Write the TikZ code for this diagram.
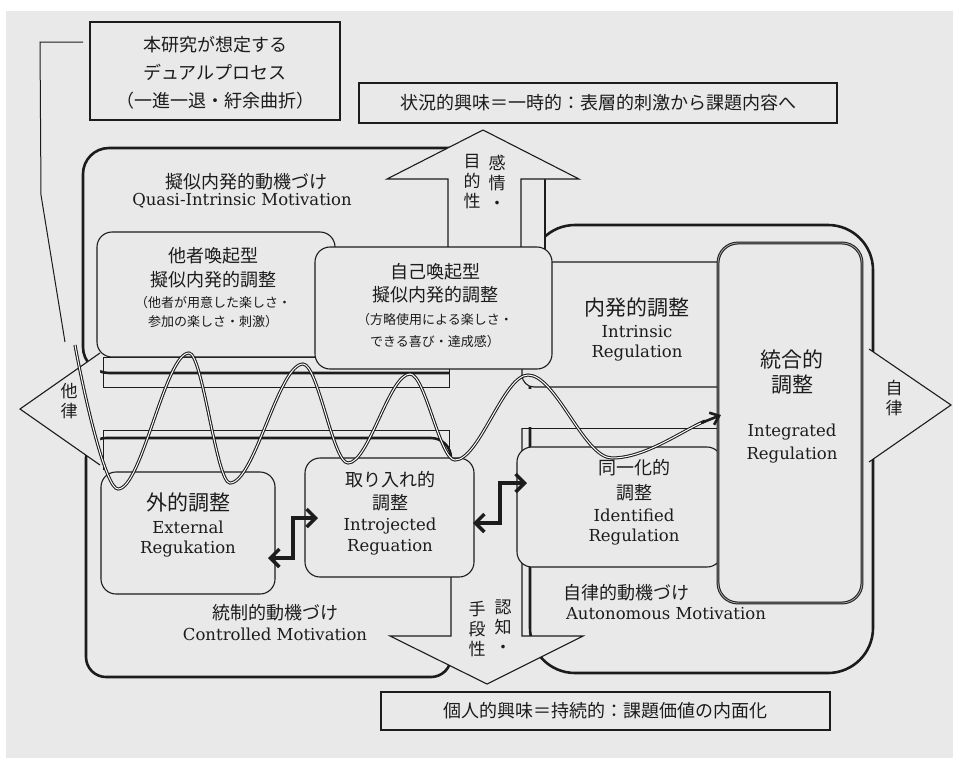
\documentclass[tikz,border=0pt]{standalone}
\usepackage{fontspec}
\newfontfamily\jp{Noto Sans CJK JP}
\newfontfamily\enf{DejaVu Serif}
\usetikzlibrary{arrows.meta,calc}
\definecolor{bg}{RGB}{233,233,233}
\definecolor{ink}{RGB}{28,28,28}
\begin{document}
\begin{tikzpicture}[x=1pt,y=-1pt,
  thickline/.style={draw=ink, line width=2.6pt},
  thinline/.style={draw=ink, line width=1pt},
  box/.style={draw=ink, line width=1.1pt, fill=bg, rounded corners=15pt, inner sep=0pt, outer sep=0pt},
  plainbox/.style={draw=ink, line width=1.1pt, fill=bg, inner sep=0pt, outer sep=0pt},
  blockarrow/.style={fill=bg, draw=ink, line width=1.1pt},
  jxl/.style={inner sep=0pt, text=ink, font=\jp\fontsize{21}{24}\selectfont},
  jmd/.style={inner sep=0pt, text=ink, font=\jp\fontsize{18}{22}\selectfont},
  jsm/.style={inner sep=0pt, text=ink, font=\jp\fontsize{13}{16}\selectfont},
  en/.style={inner sep=0pt, text=ink, font=\enf\fontsize{16.5}{20}\selectfont},
  vt/.style={inner sep=0pt, text=ink, align=center, font=\jp\fontsize{17}{20}\selectfont},
  wave/.style={draw=ink, line width=1.05pt, double=white, double distance=1pt},
  elbowtips/.style={{Straight Barb[length=9pt,width=18pt,line width=3.4pt]}-{Straight Barb[length=9pt,width=18pt,line width=3.4pt]}}
]
\useasboundingbox (0,0) rectangle (961,761);
\fill[white] (0,0) rectangle (961,761);
\fill[bg] (6,11) rectangle (953,758);

% region C (autonomous)
\draw[thickline, rounded corners=45pt] (530,225) rectangle (873,673);
% region A (quasi-intrinsic)
\fill[bg, rounded corners=26pt] (83,148) rectangle (545,373);
\draw[thickline, rounded corners=26pt] (455,148) -| (83,373) -- (449,373);
\draw[thickline] (545,179) -- (545,255);
% region B (controlled)
\draw[thickline, rounded corners=20pt] (451,475) |- (86,438) |- (451,677) -- (451,645);

% intrinsic regulation box
\node[box, rounded corners=12pt, minimum width=208pt, minimum height=125pt] (intr) at (626,324.5) {};
\fill[bg] (524,389) rectangle (545,427);

% strips
\draw[thinline] (103,357) rectangle (449,387);
\draw[thinline] (103,470) -- (103,430) -- (449,430) -- (449,462);
\draw[thinline] (522,428) -- (720,428);

% block arrows
\filldraw[blockarrow] (448,262) -- (448,179) -- (387,179) -- (483,130) -- (579,179) -- (521,179) -- (521,262);
\filldraw[blockarrow] (451,565) -- (451,636) -- (390,636) -- (487,684) -- (583,636) -- (522,636) -- (522,428);
\filldraw[blockarrow] (100,353) -- (20,409) -- (100,465);
\filldraw[blockarrow] (869,349) -- (951,405) -- (869,462);

% boxes
\node[box, minimum width=238pt, minimum height=125pt] (other) at (216,294.5) {};
\node[box, minimum width=237pt, minimum height=122pt] (self) at (433.5,308) {};
\node[box, minimum width=174pt, minimum height=122pt] (ext) at (188,533) {};
\node[box, minimum width=169pt, minimum height=119pt] (intro) at (389.5,517.5) {};
\node[box, minimum width=205pt, minimum height=120pt] (ident) at (619.5,507) {};
\node[box, rounded corners=20pt, double=bg!70!black, double distance=0.9pt, line width=1pt, minimum width=144pt, minimum height=360pt] (integ) at (790,423) {};

\node[plainbox, minimum width=250pt, minimum height=98pt] (note) at (215,71) {};
\node[plainbox, jmd, draw=ink, fill=bg, minimum width=478pt, minimum height=40pt] (situ) at (598,103) {状況的興味＝一時的：表層的刺激から課題内容へ};
\node[plainbox, jmd, draw=ink, fill=bg, minimum width=449pt, minimum height=38pt] (pers) at (605.5,711) {個人的興味＝持続的：課題価値の内面化};

% texts
\node[inner sep=0pt, text=ink, align=center, font=\jp\fontsize{18}{28}\selectfont] (noteT) at (215,73) {本研究が想定する\\デュアルプロセス\\（一進一退・紆余曲折）};
\node[jmd] (qT1) at (246,182) {擬似内発的動機づけ};
\node[en] (qT2) at (242,201) {Quasi-Intrinsic Motivation};
\node[jmd] (oT1) at (213,256) {他者喚起型};
\node[jmd] (oT2) at (213,280) {擬似内発的調整};
\node[jsm] (oT3) at (213,303) {（他者が用意した楽しさ・};
\node[jsm] (oT4) at (213,322) {参加の楽しさ・刺激）};
\node[jmd] (sT1) at (435,272) {自己喚起型};
\node[jmd] (sT2) at (435,295) {擬似内発的調整};
\node[jsm] (sT3) at (435,320) {（方略使用による楽しさ・};
\node[jsm] (sT4) at (435,342) {できる喜び・達成感）};
\node[jxl] (iT1) at (637,308) {内発的調整};
\node[en] (iT2) at (637,332) {Intrinsic};
\node[en] (iT3) at (637,353) {Regulation};
\node[jxl] (gT1) at (792,360) {統合的};
\node[jxl] (gT2) at (792,385) {調整};
\node[en] (gT3) at (792,432) {Integrated};
\node[en] (gT4) at (792,455) {Regulation};
\node[jxl] (xT1) at (188,503) {外的調整};
\node[en] (xT2) at (188,527) {External};
\node[en] (xT3) at (188,549) {Regukation};
\node[jmd] (rT1) at (390,480) {取り入れ的};
\node[jmd] (rT2) at (390,503) {調整};
\node[en] (rT3) at (390,526) {Introjected};
\node[en] (rT4) at (390,547) {Reguation};
\node[jmd] (dT1) at (634,468) {同一化的};
\node[jmd] (dT2) at (634,493) {調整};
\node[en] (dT3) at (634,515) {Identified};
\node[en] (dT4) at (634,537) {Regulation};
\node[jmd] (cT1) at (275,613) {統制的動機づけ};
\node[en] (cT2) at (275,634) {Controlled Motivation};
\node[jmd, anchor=west] (aT1) at (563,593) {自律的動機づけ};
\node[en] (aT2) at (666,614) {Autonomous Motivation};
\node[vt] (uA) at (497,182) {感\\情\\・};
\node[vt] (uB) at (472,182) {目\\的\\性};
\node[vt] (dA) at (503,627) {認\\知\\・};
\node[vt] (dB) at (477,629) {手\\段\\性};
\node[vt] (lA) at (69,401) {他\\律};
\node[vt] (rA) at (894,398) {自\\律};

% leader line
\coordinate (ld) at (83,42);
\draw[ink, line width=1pt] (ld) -- (40,42) -- (41,195) -- (65,342);

% wave
\coordinate (w0) at (75,345);
\draw[wave] (w0) .. controls (85,400) and (106,489) .. (118,489)
  .. controls (141.7,489) and (165.3,353) .. (189,353)
  .. controls (202.7,353) and (216.3,483) .. (230,483)
  .. controls (254.3,483) and (278.7,364) .. (303,364)
  .. controls (318,364) and (333,463) .. (348,463)
  .. controls (368.7,463) and (389.3,374) .. (410,374)
  .. controls (425,374) and (440,460) .. (455,460)
  .. controls (479.3,460) and (503.7,375) .. (528,375)
  .. controls (556,375) and (584,458) .. (612,458)
  .. controls (645,458) and (680,432) .. (705,421);
\coordinate (w1) at (721,415);
\draw[draw=ink, line width=2.6pt, -{Straight Barb[length=8pt,width=13pt,line width=2.6pt]}] (701,423) -- (w1);

% elbow double arrows
\coordinate (e1) at (268,558);
\coordinate (e2) at (318,518);
\draw[draw=ink, line width=3.4pt, elbowtips] (e1) -| ($(e1)!0.5!(e2)$) |- (e2);
\coordinate (f1) at (473,523);
\coordinate (f2) at (527,483);
\draw[draw=ink, line width=3.4pt, elbowtips] (f1) -| ($(f1)!0.5!(f2)$) |- (f2);
\end{tikzpicture}
\end{document}
